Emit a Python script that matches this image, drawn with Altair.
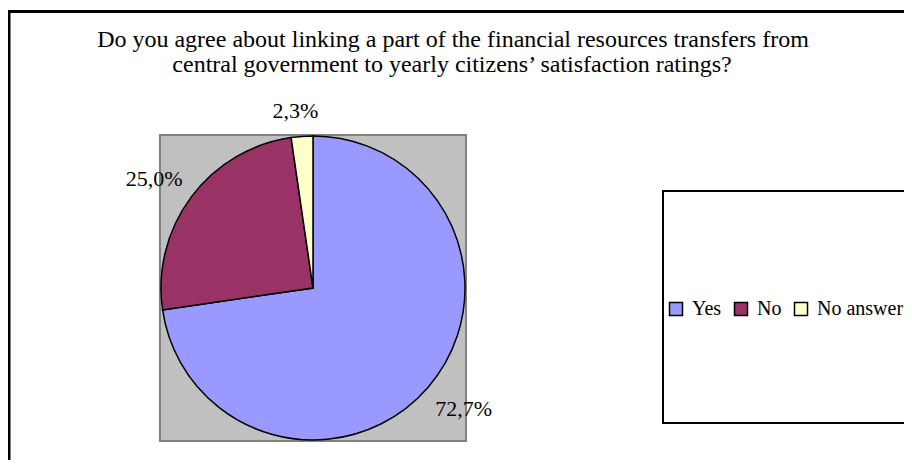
import altair as alt
import pandas as pd

# ---- data ----
categories = ["Yes", "No", "No answer"]
shares = [72.7, 25.0, 2.3]
labels = ["72,7%", "25,0%", "2,3%"]
colors = ["#9999FF", "#993366", "#FFFFCC"]
title_lines = [
    "Do you agree about linking a part of the financial resources transfers from",
    "central government to yearly citizens\u2019 satisfaction ratings?",
]

df = pd.DataFrame({"cat": categories, "share": shares, "label": labels,
                   "order": list(range(len(categories)))})
one = pd.DataFrame({"k": [0]})  # single row for decorations

W, H = 896, 452          # whole drawing (page minus 8px margins)
CX, CY, R = 305, 280, 152  # pie centre / radius in chart px
FONT = "Liberation Serif"

base = alt.Chart(df)
deco = alt.Chart(one)

frame = deco.mark_rect(fill="white", stroke="black", strokeWidth=3).encode(
    x=alt.value(1), x2=alt.value(930), y=alt.value(3.5), y2=alt.value(490)
)

plot_bg = deco.mark_rect(fill="#C0C0C0", stroke="#808080", strokeWidth=2).encode(
    x=alt.value(CX - 153), x2=alt.value(CX + 153), y=alt.value(CY - 153), y2=alt.value(CY + 153)
)

legend_box = deco.mark_rect(fill="white", stroke="black", strokeWidth=2).encode(
    x=alt.value(655), x2=alt.value(930), y=alt.value(183), y2=alt.value(415)
)

pie = base.mark_arc(x=CX, y=CY, radius=R, stroke="black", strokeWidth=1.5).encode(
    theta=alt.Theta("share:Q", stack=True),
    color=alt.Color(
        "cat:N",
        scale=alt.Scale(domain=categories, range=colors),
        sort=categories,
        legend=alt.Legend(
            title=None, orient="none", legendX=658, legendY=291,
            direction="horizontal", columns=3, gridAlign="none", symbolType="square",
            symbolSize=169, symbolStrokeColor="black", symbolStrokeWidth=1.5,
            labelFont=FONT, labelFontSize=20, labelColor="black",
            labelOffset=6, columnPadding=9, padding=0,
        ),
    ),
    order=alt.Order("order:Q"),
)

LR = 190
pct = (
    base.transform_window(cum="sum(share)", sort=[alt.SortField("order")], frame=[None, 0])
    .transform_joinaggregate(total="sum(share)")
    .transform_calculate(mid="(datum.cum - datum.share/2) / datum.total * 2 * PI")
    .transform_calculate(
        ox="datum.cat == 'Yes' ? 7 : (datum.cat == 'No' ? -6.6 : -3.8)",
        oy="datum.cat == 'Yes' ? 3.5 : (datum.cat == 'No' ? 11.4 : 19.5)",
    )
    .transform_calculate(
        px=f"{CX} + {LR} * sin(datum.mid) + datum.ox",
        py=f"{CY} - {LR} * cos(datum.mid) + datum.oy",
    )
    .mark_text(font=FONT, fontSize=22, color="black", align="center", baseline="alphabetic")
    .encode(x=alt.X("px:Q", scale=None), y=alt.Y("py:Q", scale=None), text="label:N")
)

t1 = deco.mark_text(font=FONT, fontSize=24, color="black", align="center",
                    baseline="alphabetic").encode(
    x=alt.value(445), y=alt.value(39), text=alt.value(title_lines[0]))
t2 = deco.mark_text(font=FONT, fontSize=24, color="black", align="center",
                    baseline="alphabetic").encode(
    x=alt.value(444), y=alt.value(64), text=alt.value(title_lines[1]))

chart = alt.layer(frame, plot_bg, legend_box, pie, pct, t1, t2).properties(
    width=W, height=H, padding=0, autosize=alt.AutoSizeParams(type="none"),
    background="white",
).configure_view(stroke=None)

chart.save("out.html", embed_options={"renderer": "svg", "actions": False})
